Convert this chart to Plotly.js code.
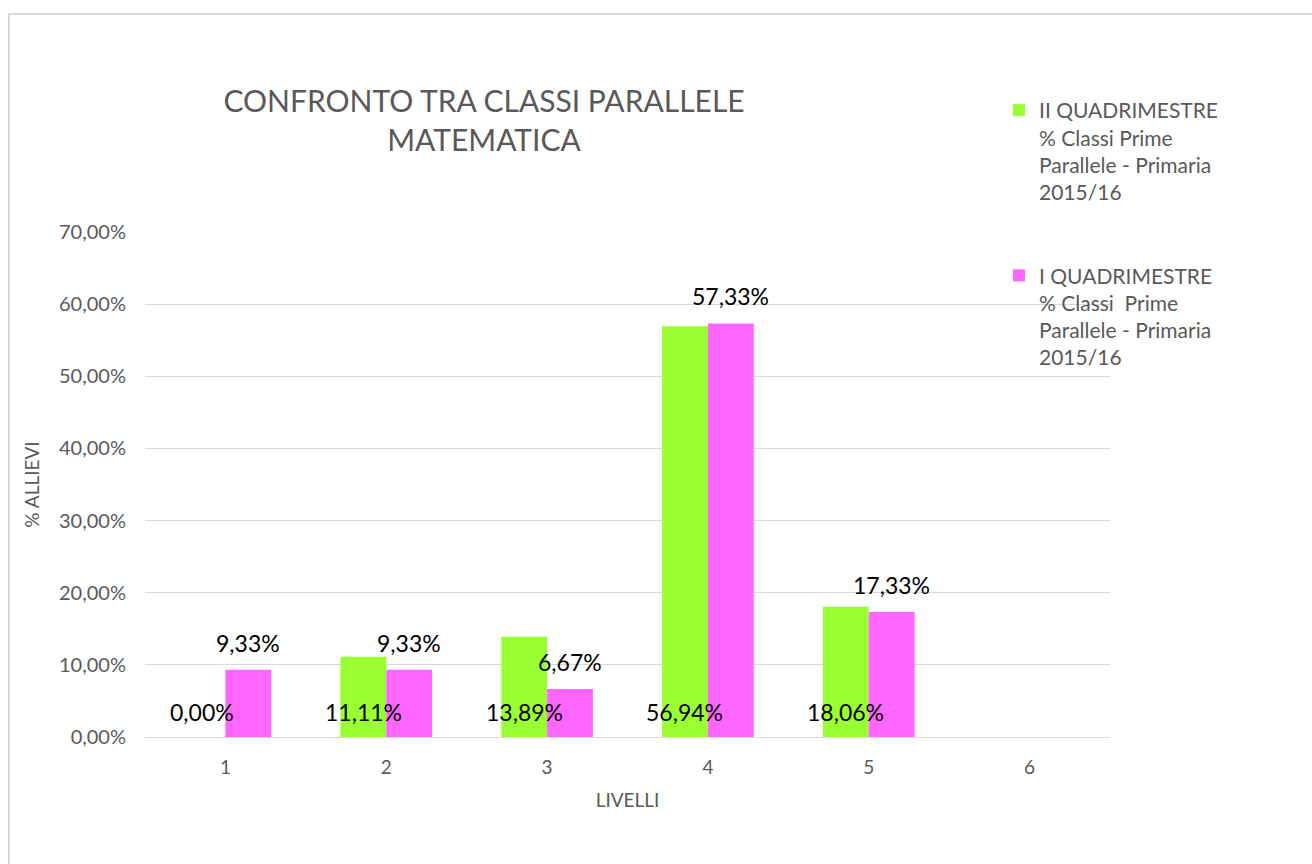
<!DOCTYPE html>
<html>
<head>
<meta charset="utf-8">
<script src="https://cdn.plot.ly/plotly-3.0.1.min.js"></script>
<style>
  html, body { margin: 0; padding: 0; background: #ffffff; }
  #frame { position: absolute; left: 8px; top: 13px; width: 1320px; height: 870px;
           border-left: 2px solid #d9d9d9; border-top: 2px solid #d9d9d9; }
  #chart { position: absolute; left: 0; top: 0; width: 1312px; height: 864px; }
</style>
</head>
<body>
<div id="frame"></div>
<div id="chart"></div>
<script>
const categories = ['1', '2', '3', '4', '5', '6'];
const seriesIIName = 'II QUADRIMESTRE<br>% Classi Prime<br>Parallele - Primaria<br>2015/16';
const seriesIName = 'I QUADRIMESTRE<br>% Classi  Prime<br>Parallele - Primaria<br>2015/16';
const seriesII = [0.00, 11.11, 13.89, 56.94, 18.06, null];
const seriesI = [9.33, 9.33, 6.67, 57.33, 17.33, null];
const yTicks = [0, 10, 20, 30, 40, 50, 60, 70];

const FONT = 'Lato, "Open Sans", sans-serif';
const GREEN = '#99ff33';
const PINK = '#ff66ff';
const GRAY = '#595959';

function fmt(v) { return v.toFixed(2).replace('.', ',') + '%'; }

const traces = [
  { type: 'bar', x: categories, y: seriesII, name: seriesIIName, marker: { color: GREEN },
    legendgroup: 'a', hoverinfo: 'y' },
  { type: 'bar', x: categories, y: seriesI, name: seriesIName, marker: { color: PINK },
    legendgroup: 'b', hoverinfo: 'y' }
];

const annotations = [];
const halfBar = 23;
categories.forEach((c, i) => {
  if (seriesII[i] !== null) {
    annotations.push({ x: i, y: 0, xref: 'x', yref: 'y', text: fmt(seriesII[i]),
      showarrow: false, xanchor: 'center', yanchor: 'bottom', xshift: -halfBar, yshift: 9,
      font: { family: FONT, size: 23, color: '#000000' } });
  }
  if (seriesI[i] !== null) {
    annotations.push({ x: i, y: seriesI[i], xref: 'x', yref: 'y', text: fmt(seriesI[i]),
      showarrow: false, xanchor: 'center', yanchor: 'bottom', xshift: halfBar, yshift: 11,
      font: { family: FONT, size: 23, color: '#000000' } });
  }
});

const layout = {
  width: 1312, height: 864,
  paper_bgcolor: 'rgba(0,0,0,0)', plot_bgcolor: 'rgba(0,0,0,0)',
  margin: { l: 145, r: 202, t: 232, b: 127 },
  separators: ',.',
  barmode: 'group', bargap: 0.43, bargroupgap: 0,
  font: { family: FONT, color: GRAY },
  title: { text: 'CONFRONTO TRA CLASSI PARALLELE<br>MATEMATICA',
    x: 484 / 1312, xref: 'container', xanchor: 'center',
    y: 1 - 112 / 864, yref: 'container', yanchor: 'top',
    font: { family: FONT, size: 30, color: GRAY } },
  xaxis: { type: 'category', categoryarray: categories, range: [-0.5, 5.5],
    showgrid: false, zeroline: false, showline: false, ticks: '',
    tickfont: { family: FONT, size: 19, color: GRAY }, ticklabelstandoff: 17,
    title: { text: 'LIVELLI', font: { family: FONT, size: 19, color: GRAY }, standoff: 16 } },
  yaxis: { range: [0, 70], tickmode: 'array', tickvals: yTicks, ticktext: yTicks.map(fmt),
    showgrid: true, gridcolor: '#d9d9d9', gridwidth: 1, zeroline: true, zerolinecolor: '#d9d9d9',
    showline: false, ticks: '', ticklabelstandoff: 18,
    tickfont: { family: FONT, size: 20, color: GRAY },
    title: { text: '% ALLIEVI', font: { family: FONT, size: 19, color: GRAY }, standoff: 14 } },
  showlegend: true,
  legend: { x: (999 - 145) / 965, xref: 'paper', xanchor: 'left',
    y: 1 + (232 - 90) / 505, yanchor: 'top', valign: 'top',
    traceorder: 'grouped', tracegroupgap: 53,
    bgcolor: 'rgba(0,0,0,0)',
    font: { family: FONT, size: 21, color: GRAY } },
  annotations: annotations
};

Plotly.newPlot('chart', traces, layout, { displayModeBar: false, staticPlot: true });
</script>
</body>
</html>
